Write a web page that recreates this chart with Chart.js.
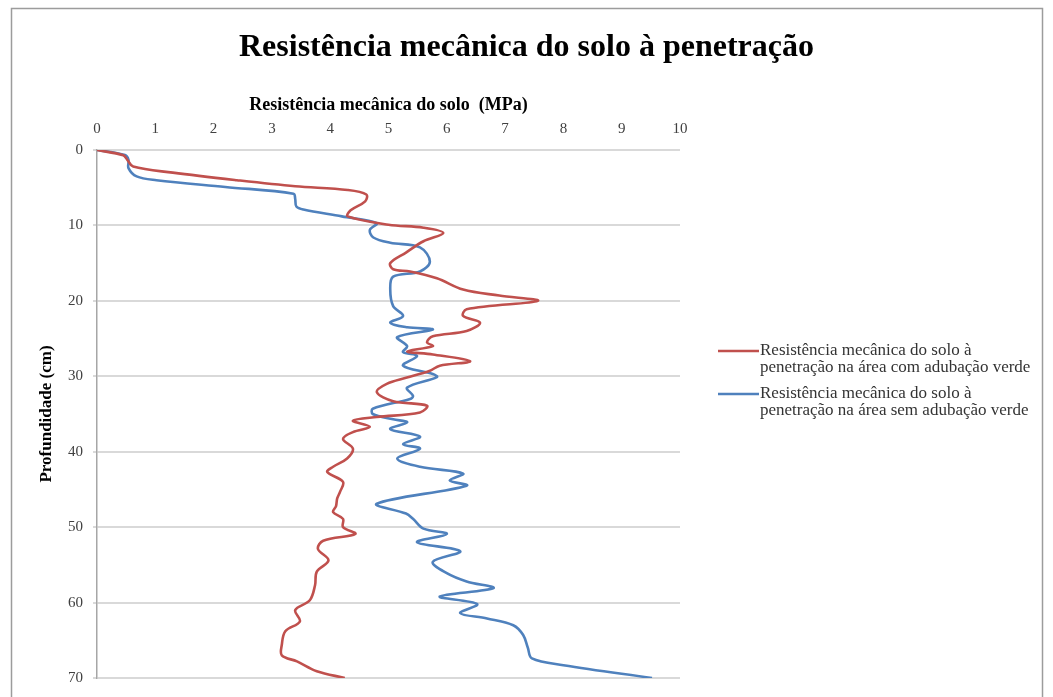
<!DOCTYPE html>
<html><head><meta charset="utf-8">
<script src="https://cdn.jsdelivr.net/npm/chart.js@4.4.1/dist/chart.umd.min.js"></script>
<style>html,body{margin:0;padding:0;background:#fff;}#wrap{width:1053px;height:697px;position:relative;}</style>
</head><body><div id="wrap"><canvas id="c" width="1053" height="697"></canvas></div>
<script>
const chartTitle = "Resistência mecânica do solo à penetração";
const xAxisTitle = "Resistência mecânica do solo  (MPa)";
const yAxisTitle = "Profundidade (cm)";
const seriesNames = [
  ["Resistência mecânica do solo à", "penetração na área com adubação verde"],
  ["Resistência mecânica do solo à", "penetração na área sem adubação verde"]
];
const seriesColors = ["#C0504D", "#4F81BD"];

// Depth (cm) and resistance (MPa) - com adubação verde
const redDepth = [0,0.7,1.3,2.2,3.0,4.0,4.8,5.3,5.9,6.8,8.0,8.8,9.9,10.3,11.0,12.1,13.6,15.0,15.8,16.1,17.0,18.5,19.3,20.0,21.1,22.0,22.9,24.0,24.7,25.5,26.0,26.7,27.1,28.0,28.6,29.3,30.2,31.0,32.1,33.3,33.9,34.8,35.4,35.9,36.7,37.4,38.3,39.6,40.9,42.0,42.7,44.0,45.3,46.2,47.2,48.0,48.9,50.0,50.9,51.8,52.9,54.4,55.9,57.7,59.7,61.0,62.5,63.8,65.6,67.0,67.8,69.1,70.0];
const redMPa   = [0,0.45,0.52,0.62,1.3,2.4,3.4,4.3,4.62,4.6,4.35,4.3,5.0,5.6,5.94,5.6,5.3,5.03,5.08,5.37,5.83,6.28,6.9,7.56,6.34,6.28,6.57,6.34,5.76,5.66,5.76,5.32,5.76,6.4,5.88,5.7,5.3,4.97,4.8,5.08,5.66,5.54,4.8,4.39,4.68,4.39,4.22,4.39,4.29,4.05,3.95,4.22,4.17,4.12,4.1,4.05,4.22,4.22,4.43,3.88,3.79,3.97,3.77,3.74,3.65,3.4,3.48,3.23,3.17,3.17,3.43,3.77,4.25];

// Depth (cm) and resistance (MPa) - sem adubação verde
const blueDepth = [0,0.66,1.3,2.4,3.5,4.0,4.9,5.8,6.5,7.5,7.9,8.8,9.7,10.6,11.6,12.3,12.9,14.8,16.1,16.8,18.5,20.7,22.0,22.9,23.5,23.8,24.8,26.0,26.8,27.3,28.6,29.7,30.1,31.5,32.6,33.0,34.3,35.0,35.7,36.1,37.0,38.0,39.0,39.6,40.9,42.0,42.9,43.8,44.5,46.9,48.2,48.9,50.2,50.9,52.0,53.2,54.6,56.1,57.2,58.1,59.2,60.2,61.4,62.1,63.0,64.3,66.0,67.4,68.3,70.0];
const blueMPa   = [0,0.48,0.54,0.54,0.68,1.02,2.2,3.37,3.4,3.42,3.54,4.2,4.8,4.68,4.74,5.03,5.54,5.71,5.54,5.08,5.03,5.08,5.25,5.03,5.32,5.76,5.15,5.32,5.25,5.49,5.25,5.76,5.83,5.32,5.42,5.37,4.73,4.73,5.08,5.32,5.03,5.54,5.25,5.54,5.15,5.54,6.28,6.05,6.34,4.8,5.3,5.42,5.6,6.0,5.49,6.23,5.76,6.0,6.34,6.8,5.88,6.52,6.23,6.69,7.14,7.31,7.39,7.46,8.0,9.52];

const xTicks = [0,1,2,3,4,5,6,7,8,9,10];
const yTicks = [0,10,20,30,40,50,60,70];

const SERIF = '"Liberation Serif", "Times New Roman", serif';

const frame = {
  id: 'frame',
  beforeDraw(chart) {
    const ctx = chart.ctx;
    ctx.save();
    ctx.fillStyle = '#fff';
    ctx.fillRect(0, 0, chart.width, chart.height);
    ctx.strokeStyle = '#9c9c9c';
    ctx.lineWidth = 1.5;
    ctx.strokeRect(11.5, 8.5, 1031, 700);
    ctx.restore();
  }
};

const sideLegend = {
  id: 'sideLegend',
  afterDraw(chart) {
    const ctx = chart.ctx;
    ctx.save();
    ctx.font = '17px ' + SERIF;
    ctx.fillStyle = '#333';
    ctx.textBaseline = 'middle';
    ctx.textAlign = 'left';
    chart.data.datasets.forEach((ds, i) => {
      const y0 = 351 + i * 43;
      ctx.strokeStyle = ds.borderColor;
      ctx.lineWidth = 2.5;
      ctx.beginPath();
      ctx.moveTo(718, y0);
      ctx.lineTo(759, y0);
      ctx.stroke();
      seriesNames[i].forEach((t, j) => ctx.fillText(t, 760, y0 + j * 17));
    });
    ctx.restore();
  }
};

function pts(d, v) { return d.map((y, i) => ({x: v[i], y: y})); }

new Chart(document.getElementById('c'), {
  type: 'scatter',
  data: {
    datasets: [
      {label: seriesNames[0].join(' '), data: pts(redDepth, redMPa), borderColor: seriesColors[0], backgroundColor: seriesColors[0], showLine: true, pointRadius: 0, borderWidth: 2.6, tension: 0.35},
      {label: seriesNames[1].join(' '), data: pts(blueDepth, blueMPa), borderColor: seriesColors[1], backgroundColor: seriesColors[1], showLine: true, pointRadius: 0, borderWidth: 2.6, tension: 0.35}
    ]
  },
  options: {
    responsive: false,
    animation: false,
    devicePixelRatio: 1,
    layout: {padding: {left: 0, right: 0, top: 0, bottom: 17}},
    plugins: {
      legend: {display: false},
      tooltip: {enabled: false},
      title: {display: true, text: chartTitle, color: '#000', font: {family: SERIF, size: 32, weight: 'bold', lineHeight: '38px'}, padding: {top: 29, bottom: 0}}
    },
    scales: {
      x: {
        type: 'linear', position: 'top', min: 0, max: 10,
        afterBuildTicks(s) { s.ticks = xTicks.map(v => ({value: v})); },
        afterFit(s) { s.height = 83; },
        ticks: {font: {family: SERIF, size: 15}, color: '#404040', padding: 4},
        grid: {display: false},
        border: {display: false},
        title: {display: true, text: xAxisTitle, color: '#000', font: {family: SERIF, size: 18, weight: 'bold', lineHeight: '20px'}, padding: {top: 28, bottom: 0}}
      },
      y: {
        type: 'linear', reverse: true, min: 0, max: 70,
        afterBuildTicks(s) { s.ticks = yTicks.map(v => ({value: v})); },
        afterFit(s) { s.width = 97; },
        ticks: {font: {family: SERIF, size: 15}, color: '#404040', padding: 10},
        grid: {color: '#d9d9d9', lineWidth: 2, tickLength: 4, drawTicks: true},
        border: {display: true, color: '#a6a6a6', width: 1.5},
        title: {display: true, text: yAxisTitle, color: '#000', font: {family: SERIF, size: 17, weight: 'bold', lineHeight: '20px'}, padding: {top: 37, bottom: 0}}
      },
      legendSpace: {
        type: 'linear', position: 'right', display: true,
        afterFit(s) { s.width = 373; },
        ticks: {display: false},
        grid: {display: false},
        border: {display: false}
      }
    }
  },
  plugins: [frame, sideLegend]
});
</script></body></html>
